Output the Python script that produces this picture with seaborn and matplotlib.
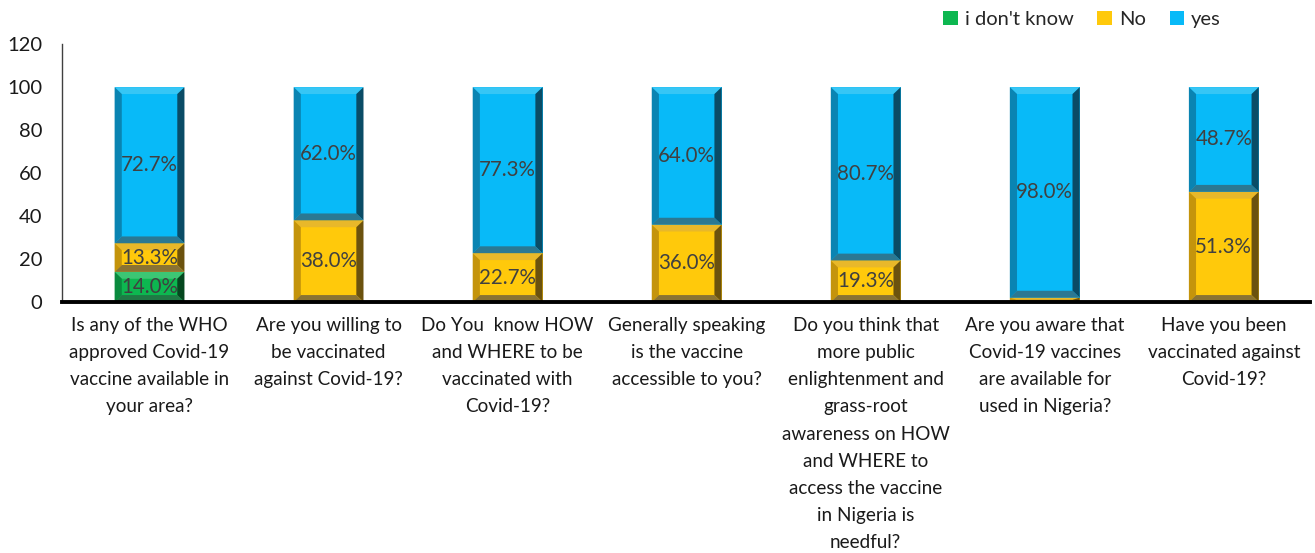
import matplotlib
matplotlib.use("Agg")
import matplotlib.pyplot as plt
from matplotlib.patches import Polygon
import seaborn as sns

questions = [
    "Is any of the WHO\napproved Covid-19\nvaccine available in\nyour area?",
    "Are you willing to\nbe vaccinated\nagainst Covid-19?",
    "Do You  know HOW\nand WHERE to be\nvaccinated with\nCovid-19?",
    "Generally speaking\nis the vaccine\naccessible to you?",
    "Do you think that\nmore public\nenlightenment and\ngrass-root\nawareness on HOW\nand WHERE to\naccess the vaccine\nin Nigeria is\nneedful?",
    "Are you aware that\nCovid-19 vaccines\nare available for\nused in Nigeria?",
    "Have you been\nvaccinated against\nCovid-19?",
]
dont_know = [14.0, 0, 0, 0, 0, 0, 0]
no = [13.3, 38.0, 22.7, 36.0, 19.3, 2.0, 51.3]
yes = [72.7, 62.0, 77.3, 64.0, 80.7, 98.0, 48.7]

series_names = ["i don't know", "No", "yes"]
# main, top bevel, left bevel, right bevel, bottom bevel
palettes = {
    "i don't know": ["#0DB750", "#3cc674", "#0a8a3e", "#05471f", "#1f7a45"],
    "No": ["#FFC90B", "#e8b82a", "#c4940c", "#6b520e", "#8a7333"],
    "yes": ["#08BAF8", "#36c6f5", "#0a84b2", "#0a4c66", "#2b7892"],
}

sns.set_style("white")
plt.rcParams["font.family"] = ["Lato", "DejaVu Sans"]

fig = plt.figure(figsize=(13.15, 5.53), dpi=100)
ax = fig.add_axes([0.047, 0.454, 0.949, 0.466])

bottoms = [0] * len(questions)
for name, vals in zip(series_names, [dont_know, no, yes]):
    sns.barplot(x=questions, y=vals, bottom=bottoms, color=palettes[name][0],
                saturation=1, width=0.39, errorbar=None, ax=ax,
                linewidth=0, label=name)
    bottoms = [b + v for b, v in zip(bottoms, vals)]

ax.set_xlim(-0.49, 6.48)
ax.set_ylim(0, 120)

# fake excel bevel
bx, by = 0.04, 3.2
for cont, name in zip(ax.containers, series_names):
    main, top, left, right, bot = palettes[name]
    for p in cont.patches:
        x, y, w, h = p.get_x(), p.get_y(), p.get_width(), p.get_height()
        if h <= 0:
            continue
        dy = min(by, h / 2)
        x0, x1, y0, y1 = x, x + w, y, y + h
        ix0, ix1, iy0, iy1 = x0 + bx, x1 - bx, y0 + dy, y1 - dy
        for pts, c in [
            ([(x0, y1), (x1, y1), (ix1, iy1), (ix0, iy1)], top),
            ([(x0, y0), (x0, y1), (ix0, iy1), (ix0, iy0)], left),
            ([(x1, y0), (x1, y1), (ix1, iy1), (ix1, iy0)], right),
            ([(x0, y0), (x1, y0), (ix1, iy0), (ix0, iy0)], bot),
        ]:
            ax.add_patch(Polygon(pts, closed=True, facecolor=c, edgecolor="none", zorder=2.5))

for cont, vals in zip(ax.containers, [dont_know, no, yes]):
    labels = [f"{v:.1f}%" if v >= 5 else "" for v in vals]
    ax.bar_label(cont, labels=labels, label_type="center", fontsize=14.8,
                 color="#404040", zorder=5)

ax.set_yticks(range(0, 121, 20))
ax.tick_params(axis="y", labelsize=14.5, length=0, pad=14, labelcolor="#1a1a1a")
ax.tick_params(axis="x", labelsize=13.6, length=0, pad=11, labelcolor="#1a1a1a")
for t in ax.get_xticklabels():
    t.set_linespacing(1.72)

sns.despine(ax=ax)
ax.spines["left"].set_color("#404040")
ax.spines["left"].set_linewidth(1)
ax.spines["bottom"].set_color("black")
ax.spines["bottom"].set_linewidth(2.8)
ax.spines["bottom"].set_zorder(6)

ax.legend(loc="lower right", bbox_to_anchor=(0.935, 1.03), ncol=3, frameon=False,
          fontsize=14.5, handlelength=0.7, handleheight=0.7, handletextpad=0.35,
          columnspacing=1.2, borderaxespad=0)

fig.savefig("out.png", dpi=100)
